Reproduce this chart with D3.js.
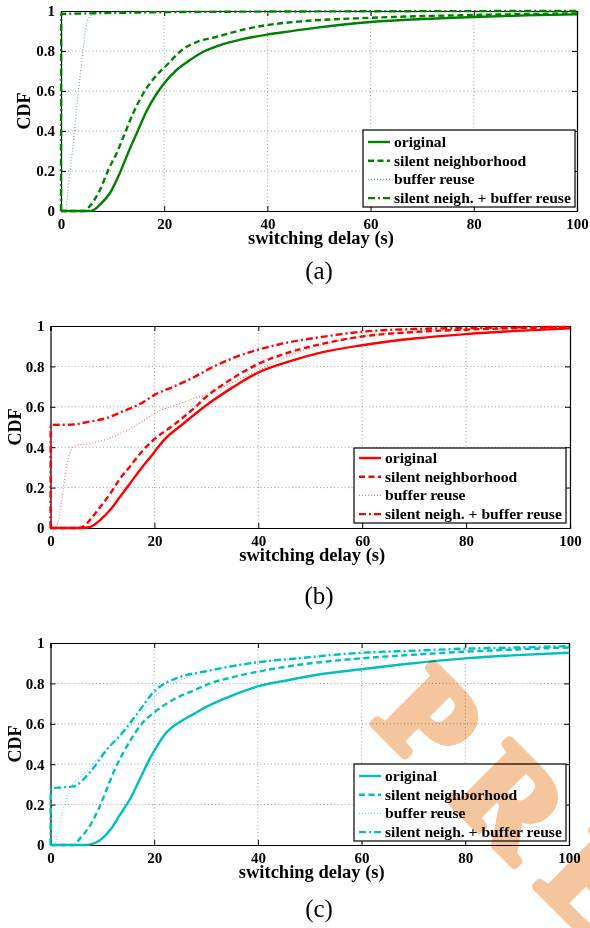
<!DOCTYPE html>
<html>
<head>
<meta charset="utf-8">
<script src="https://cdn.jsdelivr.net/npm/d3@7"></script>
<style>
  body { margin: 0; background: #fff; }
  svg { display: block; }
  text { font-family: "Liberation Serif", "Times New Roman", serif; }
</style>
</head>
<body>
<div id="chart"></div>
<script>
const xTicks = [0, 20, 40, 60, 80, 100];
const yTicks = [0, 0.2, 0.4, 0.6, 0.8, 1];
const seriesNames = ["original", "silent neighborhood", "buffer reuse", "silent neigh. + buffer reuse"];
const captions = ["(a)", "(b)", "(c)"];

// (a) green
const aOriginal = [[0,0],[5.5,0],[6.3,0.005],[7.6,0.033],[9.5,0.09],[11.4,0.19],[13,0.29],[14.7,0.39],[16.6,0.5],[18.5,0.585],[20.2,0.645],[22.4,0.705],[25,0.755],[27.5,0.795],[30,0.822],[35,0.858],[40,0.882],[44,0.897],[50,0.918],[60,0.945],[70,0.96],[80,0.97],[90,0.978],[100,0.983]];
const aSilent = [[0,0],[4.5,0],[5.6,0.025],[7.6,0.108],[9.2,0.208],[10.8,0.29],[12.4,0.39],[14,0.49],[16,0.59],[17.9,0.66],[20.5,0.73],[23.7,0.81],[26.3,0.845],[30,0.87],[35,0.905],[40,0.93],[46,0.947],[60,0.966],[80,0.98],[100,0.988]];
const aBuffer = [[0,0],[0.8,0.005],[1.7,0.19],[2.4,0.34],[3,0.51],[3.7,0.675],[4.3,0.81],[5,0.94],[5.9,0.98],[7.6,0.993],[15,0.998],[100,1]];
const aCombined = [[0,0],[0.05,0.985],[5,0.988],[20,0.994],[50,0.998],[100,1]];

// (b) red
const bOriginal = [[0,0],[6,0],[7.6,0.005],[9.6,0.04],[11.5,0.09],[13.4,0.155],[15.3,0.22],[17.3,0.29],[19.2,0.35],[22,0.44],[25,0.505],[30,0.608],[35,0.695],[40,0.77],[46,0.825],[52,0.868],[60,0.905],[70,0.938],[80,0.96],[90,0.976],[100,0.988]];
const bSilent = [[0,0],[5.5,0],[6.4,0.008],[7.6,0.04],[9.6,0.105],[11.5,0.17],[13.4,0.245],[15.3,0.305],[17.3,0.37],[20,0.44],[23.7,0.51],[27.5,0.59],[30,0.65],[35,0.74],[40,0.812],[46,0.87],[52,0.91],[60,0.948],[70,0.97],[80,0.982],[100,0.994]];
const bBuffer = [[0,0],[0.9,0],[1.9,0.09],[2.5,0.2],[3.2,0.32],[4.1,0.39],[4.8,0.408],[7.6,0.418],[10.9,0.44],[14,0.475],[17.3,0.52],[20.1,0.57],[23.7,0.605],[27.5,0.64],[30.7,0.67],[35,0.72],[40,0.78],[46,0.855],[52,0.905],[60,0.95],[70,0.972],[80,0.984],[100,0.995]];
const bCombined = [[0,0],[0.05,0.51],[4,0.512],[7.6,0.527],[10.9,0.545],[14,0.578],[17.3,0.615],[20.1,0.66],[23.7,0.7],[27.5,0.745],[30.7,0.79],[35,0.84],[40,0.883],[46,0.92],[52,0.945],[60,0.972],[70,0.985],[80,0.99],[100,0.996]];

// (c) cyan
const cOriginal = [[0,0],[6.5,0],[7.7,0.003],[9.6,0.025],[11.5,0.074],[13.4,0.15],[15.4,0.23],[17.3,0.33],[19.2,0.43],[20.2,0.475],[22.3,0.555],[25,0.61],[27.6,0.648],[30.2,0.686],[35,0.74],[40,0.785],[46,0.817],[52,0.845],[60,0.87],[70,0.9],[80,0.924],[90,0.94],[100,0.952]];
const cSilent = [[0,0],[4.4,0],[5.7,0.033],[7.7,0.1],[9.3,0.18],[10.9,0.28],[12.5,0.38],[14.1,0.46],[15.7,0.53],[17.6,0.6],[20.2,0.66],[23.7,0.72],[27.6,0.765],[30.8,0.8],[35,0.83],[40,0.858],[46,0.885],[52,0.905],[60,0.924],[70,0.942],[80,0.957],[90,0.968],[100,0.978]];
const cBuffer = [[0,0],[0.6,0],[1.5,0.065],[2.5,0.18],[3.5,0.26],[4.4,0.305],[6.4,0.35],[8.3,0.405],[10.9,0.48],[14.1,0.555],[17.3,0.645],[20.2,0.735],[23.7,0.8],[27.6,0.84],[32,0.87],[40,0.905],[48,0.925],[60,0.948],[70,0.958],[80,0.967],[90,0.975],[100,0.98]];
const cCombined = [[0,0],[0.05,0.28],[2,0.285],[4.4,0.29],[7.6,0.36],[10.8,0.47],[14,0.56],[17,0.66],[20,0.76],[24.8,0.83],[30,0.86],[35,0.885],[40,0.905],[48,0.925],[60,0.952],[70,0.962],[80,0.972],[90,0.978],[100,0.985]];

const width = 590, height = 928;

const panels = [
  { color: "#008000", series: [aOriginal, aSilent, aBuffer, aCombined],
    left: 61, right: 577, top: 11, bottom: 211,
    legend: { x: 363, y: 130, w: 212, h: 77, first: 12 },
    ylabX: 30, capY: 279 },
  { color: "#ff0000", series: [bOriginal, bSilent, bBuffer, bCombined],
    left: 50.5, right: 570, top: 326, bottom: 528,
    legend: { x: 354, y: 448, w: 212, h: 75, first: 10 },
    ylabX: 21, capY: 604 },
  { color: "#00bfbf", series: [cOriginal, cSilent, cBuffer, cCombined],
    left: 50.5, right: 569, top: 643, bottom: 845,
    legend: { x: 354, y: 764, w: 212, h: 77, first: 12 },
    ylabX: 21, capY: 917 }
];

const styles = [
  { w: 2.4, dash: null, op: 1 },
  { w: 2.4, dash: "6,3.5", op: 1 },
  { w: 1.2, dash: "1,2", op: 0.55 },
  { w: 2.4, dash: "7,3,2,3", op: 1 }
];

const svg = d3.select("#chart").append("svg")
  .attr("width", width)
  .attr("height", height)
  .attr("viewBox", `0 0 ${width} ${height}`);

panels.forEach((p, i) => {
  const x = d3.scaleLinear().domain([0, 100]).range([p.left, p.right]);
  const y = d3.scaleLinear().domain([0, 1]).range([p.bottom, p.top]);
  const g = svg.append("g");

  // grid
  g.append("g").selectAll("line").data(xTicks.slice(1, -1)).join("line")
    .attr("x1", d => x(d)).attr("x2", d => x(d))
    .attr("y1", p.top).attr("y2", p.bottom)
    .attr("stroke", "#888").attr("stroke-width", 0.8).attr("stroke-dasharray", "1,2.5");
  g.append("g").selectAll("line").data(yTicks.slice(1, -1)).join("line")
    .attr("y1", d => y(d)).attr("y2", d => y(d))
    .attr("x1", p.left).attr("x2", p.right)
    .attr("stroke", "#888").attr("stroke-width", 0.8).attr("stroke-dasharray", "1,2.5");

  // axes
  const fmt = d => String(d);
  const xb = g.append("g").attr("transform", `translate(0,${p.bottom})`)
    .call(d3.axisBottom(x).tickValues(xTicks).tickSize(-5).tickPadding(7).tickFormat(fmt));
  const xt = g.append("g").attr("transform", `translate(0,${p.top})`)
    .call(d3.axisTop(x).tickValues(xTicks).tickSize(-5).tickFormat(""));
  const yl = g.append("g").attr("transform", `translate(${p.left},0)`)
    .call(d3.axisLeft(y).tickValues(yTicks).tickSize(-5).tickPadding(6).tickFormat(fmt));
  const yr = g.append("g").attr("transform", `translate(${p.right},0)`)
    .call(d3.axisRight(y).tickValues(yTicks).tickSize(-5).tickFormat(""));
  [xb, xt, yl, yr].forEach(a => {
    a.select(".domain").attr("stroke", "#000").attr("stroke-width", 1.2);
    a.selectAll(".tick line").attr("stroke", "#000").attr("stroke-width", 1);
    a.selectAll("text")
      .attr("font-family", "Liberation Serif, Times New Roman, serif")
      .attr("font-weight", "bold").attr("font-size", 15).attr("fill", "#000");
  });

  // curves
  const line = d3.line().x(d => x(d[0])).y(d => y(d[1])).curve(d3.curveMonotoneX);
  p.series.forEach((s, k) => {
    const st = styles[k];
    g.append("path").datum(s)
      .attr("d", line)
      .attr("fill", "none")
      .attr("stroke", p.color)
      .attr("stroke-width", st.w)
      .attr("stroke-opacity", st.op)
      .attr("stroke-dasharray", st.dash);
  });

  // labels
  g.append("text")
    .attr("x", (p.left + p.right) / 2 + 2).attr("y", p.bottom + 33)
    .attr("text-anchor", "middle").attr("font-weight", "bold").attr("font-size", 18.5)
    .text("switching delay (s)");
  g.append("text")
    .attr("transform", `translate(${p.ylabX},${(p.top + p.bottom) / 2}) rotate(-90)`)
    .attr("text-anchor", "middle").attr("font-weight", "bold").attr("font-size", 18)
    .text("CDF");
  g.append("text")
    .attr("x", 319).attr("y", p.capY)
    .attr("text-anchor", "middle").attr("font-size", 25)
    .text(captions[i]);

  // legend
  const L = p.legend;
  const lg = g.append("g").attr("transform", `translate(${L.x},${L.y})`);
  lg.append("rect").attr("width", L.w).attr("height", L.h)
    .attr("fill", "#fff").attr("stroke", "#000").attr("stroke-width", 1.2);
  seriesNames.forEach((name, k) => {
    const st = styles[k];
    const cy = L.first + k * 18.7;
    lg.append("line").attr("x1", 5).attr("x2", 27).attr("y1", cy).attr("y2", cy)
      .attr("stroke", p.color).attr("stroke-width", st.w)
      .attr("stroke-opacity", st.op).attr("stroke-dasharray", st.dash);
    lg.append("text").attr("x", 31).attr("y", cy + 5)
      .attr("font-weight", "bold").attr("font-size", 15.6)
      .text(name);
  });
});

// watermark
svg.append("text")
  .attr("transform", "translate(372,722) rotate(45)")
  .attr("font-family", "Liberation Sans, Arial, sans-serif")
  .attr("font-weight", "bold")
  .attr("font-size", 128)
  .attr("letter-spacing", 30)
  .attr("fill", "#f0a868")
  .attr("stroke", "#f0a868")
  .attr("stroke-width", 9)
  .attr("stroke-linejoin", "round")
  .attr("opacity", 0.65)
  .style("mix-blend-mode", "multiply")
  .text("PREVIEW");
</script>
</body>
</html>
